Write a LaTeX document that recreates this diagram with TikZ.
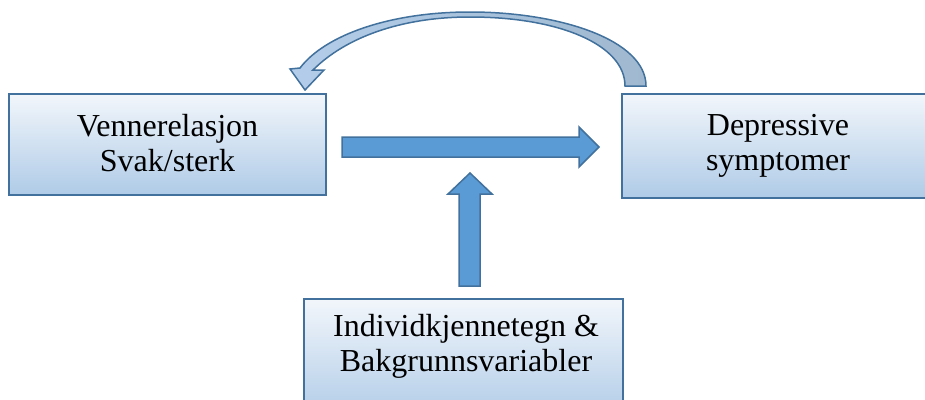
\documentclass[tikz,border=0pt]{standalone}
\usepackage{fontspec}
\setmainfont{Liberation Serif}
\definecolor{edgeblue}{HTML}{41719C}
\definecolor{boxtop}{HTML}{F2F6FB}
\definecolor{boxbot}{HTML}{AFCBE7}
\definecolor{arrowfill}{HTML}{5B9BD5}
\definecolor{curveL}{HTML}{B3CDEA}
\definecolor{curveR}{HTML}{A0B9D0}
\begin{document}
\begin{tikzpicture}[x=1pt,y=-1pt,
  boxstyle/.style={draw=edgeblue,line width=1.8pt,top color=boxtop,bottom color=boxbot},
  txt/.style={font=\fontsize{32}{35}\selectfont,align=center,text=black},
  blockarrow/.style={draw=edgeblue,line width=1.5pt,fill=arrowfill,line join=miter}]
\useasboundingbox (0,0) rectangle (925,399);
% boxes
\path[boxstyle] (9,94) rectangle (326,195);
\node[txt] (left) at (167.5,143) {Vennerelasjon\\Svak/sterk};
\path[boxstyle] (622,94) rectangle (940,198);
\node[txt] (right) at (778,146) {Depressive\\symptomer};
\path[boxstyle] (304,299) rectangle (623,420);
\node[txt] (bottom) at (466,346) {Individkjennetegn \&\\Bakgrunnsvariabler};
% horizontal arrow
\path[blockarrow] (342,137) -- (579,137) -- (579,127) -- (599,147) -- (579,167) -- (579,157) -- (342,157) -- cycle;
% vertical arrow
\path[blockarrow] (459,286) -- (459,194) -- (448,194) -- (470,173) -- (492,194) -- (480,194) -- (480,286) -- cycle;
% curved arrow
\path[draw=edgeblue,line width=1.5pt,left color=curveL,right color=curveR,line join=miter]
  (646,86) .. controls (646,40) and (560,12) .. (470,12)
  .. controls (390,12) and (325,35) .. (300,68)
  -- (290,69) -- (305,90) -- (324,70) -- (313,70)
  .. controls (345,38) and (400,17) .. (470,17)
  .. controls (560,17) and (625,45) .. (625,86) -- cycle;
\end{tikzpicture}
\end{document}
